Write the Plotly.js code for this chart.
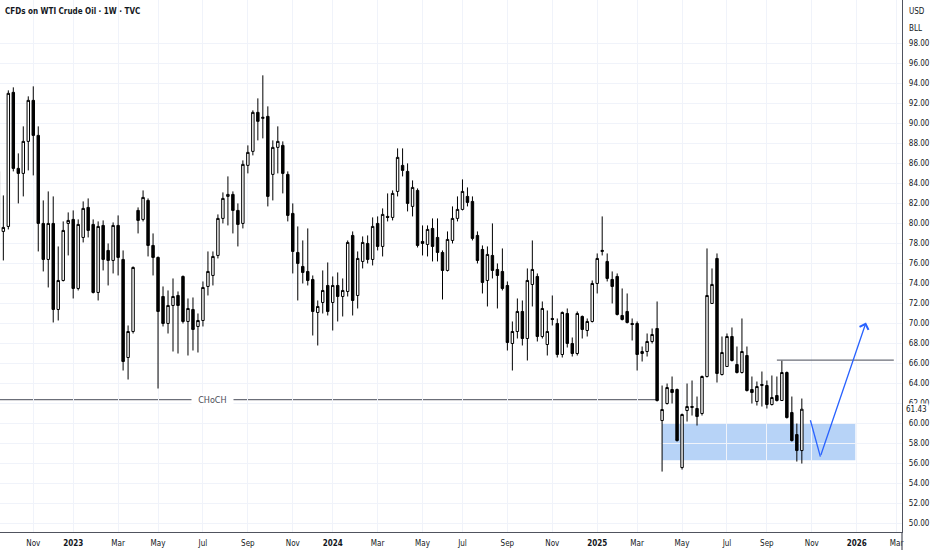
<!DOCTYPE html>
<html>
<head>
<meta charset="utf-8">
<script src="https://cdn.plot.ly/plotly-3.0.1.min.js"></script>
<style>html,body{margin:0;padding:0;background:#fff;}#chart{width:932px;height:550px;}</style>
</head>
<body>
<div id="chart"></div>
<script>
// Weekly bars (Monday of each week)
const weeks = [
"2022-09-19","2022-09-26","2022-10-03","2022-10-10","2022-10-17","2022-10-24","2022-10-31","2022-11-07","2022-11-14","2022-11-21","2022-11-28","2022-12-05","2022-12-12","2022-12-19","2022-12-26",
"2023-01-02","2023-01-09","2023-01-16","2023-01-23","2023-01-30","2023-02-06","2023-02-13","2023-02-20","2023-02-27","2023-03-06","2023-03-13","2023-03-20","2023-03-27","2023-04-03","2023-04-10","2023-04-17","2023-04-24","2023-05-01","2023-05-08","2023-05-15","2023-05-22","2023-05-29","2023-06-05","2023-06-12","2023-06-19","2023-06-26","2023-07-03","2023-07-10","2023-07-17","2023-07-24","2023-07-31","2023-08-07","2023-08-14","2023-08-21","2023-08-28","2023-09-04","2023-09-11","2023-09-18","2023-09-25","2023-10-02","2023-10-09","2023-10-16","2023-10-23","2023-10-30","2023-11-06","2023-11-13","2023-11-20","2023-11-27","2023-12-04","2023-12-11","2023-12-18","2023-12-25",
"2024-01-01","2024-01-08","2024-01-15","2024-01-22","2024-01-29","2024-02-05","2024-02-12","2024-02-19","2024-02-26","2024-03-04","2024-03-11","2024-03-18","2024-03-25","2024-04-01","2024-04-08","2024-04-15","2024-04-22","2024-04-29","2024-05-06","2024-05-13","2024-05-20","2024-05-27","2024-06-03","2024-06-10","2024-06-17","2024-06-24","2024-07-01","2024-07-08","2024-07-15","2024-07-22","2024-07-29","2024-08-05","2024-08-12","2024-08-19","2024-08-26","2024-09-02","2024-09-09","2024-09-16","2024-09-23","2024-09-30","2024-10-07","2024-10-14","2024-10-21","2024-10-28","2024-11-04","2024-11-11","2024-11-18","2024-11-25","2024-12-02","2024-12-09","2024-12-16","2024-12-23","2024-12-30",
"2025-01-06","2025-01-13","2025-01-20","2025-01-27","2025-02-03","2025-02-10","2025-02-17","2025-02-24","2025-03-03","2025-03-10","2025-03-17","2025-03-24","2025-03-31","2025-04-07","2025-04-14","2025-04-21","2025-04-28","2025-05-05","2025-05-12","2025-05-19","2025-05-26","2025-06-02","2025-06-09","2025-06-16","2025-06-23","2025-06-30","2025-07-07","2025-07-14","2025-07-21","2025-07-28","2025-08-04","2025-08-11","2025-08-18","2025-08-25","2025-09-01","2025-09-08","2025-09-15","2025-09-22","2025-09-29","2025-10-06","2025-10-13","2025-10-20"
];
const opens = [
85.2,79.2,79.7,93.1,85.5,85.0,88.2,92.3,88.8,80.0,76.4,80.0,71.4,74.3,80.0,
80.4,73.5,78.6,81.6,79.9,73.1,79.8,77.3,76.3,79.8,76.4,66.6,69.2,81.3,80.4,82.3,77.8,76.6,72.7,70.0,71.8,72.8,74.7,70.2,71.4,69.7,70.3,73.7,74.8,76.8,80.5,82.7,82.9,81.3,80.0,85.8,87.2,91.1,90.5,90.7,84.9,87.6,87.8,84.9,81.0,77.1,75.7,75.2,74.4,71.1,72.1,73.8,
72.1,73.8,72.7,73.2,78.8,72.8,76.2,78.0,76.4,80.0,77.7,80.7,80.6,83.2,85.8,85.2,81.7,83.3,78.2,77.9,79.5,78.6,77.1,75.3,78.3,80.5,81.4,82.7,82.2,78.8,77.4,74.3,76.8,75.4,75.2,73.8,68.0,69.2,71.2,68.5,73.9,74.7,68.7,67.9,70.5,70.0,66.9,71.0,68.0,67.0,70.7,69.3,70.2,
74.0,77.2,76.2,74.4,74.7,70.8,71.2,70.0,70.0,67.0,67.2,68.2,69.5,60.3,62.0,63.4,63.4,55.6,61.3,61.6,61.5,61.0,64.7,72.0,76.5,64.9,65.7,68.7,65.9,65.1,66.8,63.4,62.2,63.8,63.8,61.9,62.8,62.3,65.1,61.1,58.9,57.3
];
const highs = [
86.0,82.8,93.3,93.6,87.0,89.7,92.7,93.7,89.7,82.3,83.2,82.7,77.7,80.2,81.1,
81.3,80.4,82.2,82.5,80.4,80.2,80.3,78.0,80.1,80.8,77.3,69.8,75.7,81.6,83.3,82.5,79.0,76.7,73.7,73.3,74.5,73.2,74.8,72.5,72.6,71.0,74.2,77.2,77.2,80.9,83.1,84.7,83.2,82.0,86.3,87.8,91.3,92.5,94.8,91.7,88.3,89.7,88.2,85.2,82.0,79.7,78.3,79.5,74.8,72.3,75.3,76.1,
74.7,75.1,74.5,78.3,79.2,77.2,78.7,78.8,80.6,80.7,81.5,83.0,83.3,87.5,87.5,86.0,84.3,83.5,79.8,79.8,80.5,80.5,77.3,79.2,81.7,82.7,84.4,83.6,82.7,79.2,77.8,77.7,80.0,76.0,77.5,74.2,70.2,72.5,72.3,75.5,78.3,75.0,72.2,71.3,72.8,70.5,71.2,71.5,68.6,71.2,70.8,70.5,74.3,
77.0,80.7,77.0,75.2,75.0,73.5,73.0,70.5,70.2,67.7,69.0,69.5,72.2,63.8,64.0,64.7,63.5,61.0,64.0,64.3,62.7,64.8,77.5,75.5,77.0,68.7,69.0,69.6,67.7,70.5,67.7,64.7,64.2,65.2,64.3,64.8,64.7,66.3,65.2,62.7,60.0,62.5
];
const lows = [
78.5,76.3,79.4,85.2,82.0,82.7,85.3,84.8,77.2,75.2,73.6,70.1,70.3,74.2,76.8,
72.5,73.3,78.1,78.6,73.0,72.3,75.3,73.8,75.0,74.8,65.3,64.4,69.0,79.0,80.2,76.7,74.8,63.5,69.7,69.0,67.2,67.0,70.0,66.8,67.3,67.1,69.7,72.8,73.8,76.5,80.0,79.8,79.0,77.7,79.5,85.0,86.8,88.3,88.5,81.7,82.3,85.0,83.0,80.2,75.0,72.3,74.0,73.8,68.8,67.8,71.0,70.8,
69.3,70.2,70.7,72.7,70.8,71.5,75.5,76.0,75.8,77.3,76.7,80.2,80.3,82.7,84.7,81.2,80.7,77.6,76.8,76.7,76.2,76.2,72.4,75.2,78.0,80.2,81.3,81.7,78.3,76.0,73.0,71.7,74.5,71.5,73.3,67.3,65.3,68.5,67.8,66.3,71.7,68.2,68.5,66.8,69.8,66.6,66.6,67.6,66.7,66.8,68.5,68.7,70.1,
73.0,76.8,74.2,72.0,70.8,70.3,70.0,68.3,65.3,66.2,66.7,68.0,62.2,55.2,61.9,62.0,58.2,55.4,60.2,60.8,59.8,60.8,64.6,72.0,64.1,64.8,65.7,66.2,65.0,65.0,63.2,62.0,61.8,61.7,61.5,61.8,62.2,62.3,60.5,58.2,56.2,56.0
];
const closes = [
79.5,79.6,93.0,85.5,85.0,88.2,92.3,88.8,80.0,76.4,80.0,71.4,74.3,79.3,80.3,
73.5,79.9,81.5,79.3,73.1,79.7,76.4,76.3,79.8,76.6,66.2,69.2,75.6,80.3,82.6,77.8,76.6,71.2,70.0,71.8,72.7,71.8,70.2,71.5,69.4,70.3,73.6,75.2,76.7,80.5,82.5,82.9,81.3,79.9,85.9,87.1,91.1,90.2,90.6,82.7,87.6,88.2,85.0,80.8,77.2,76.0,75.1,74.3,71.2,71.7,73.3,71.2,
73.8,72.7,73.3,78.1,72.3,76.5,78.1,76.4,79.7,77.7,80.9,80.6,83.0,86.6,85.3,82.0,83.6,77.8,78.0,79.4,77.7,77.1,75.3,78.4,80.5,81.4,83.2,82.1,78.5,76.3,74.1,76.9,75.3,74.8,73.5,68.1,69.2,71.2,68.5,74.3,75.4,68.7,71.5,69.2,70.4,66.9,71.1,68.0,67.0,71.0,69.4,70.2,74.0,
76.5,77.3,74.5,73.7,70.9,70.4,70.1,69.9,66.9,67.2,68.2,68.9,62.3,61.4,63.6,63.1,58.3,60.9,61.7,61.7,60.7,64.7,72.8,73.9,65.0,67.1,68.7,66.3,65.1,67.2,63.3,63.1,63.7,63.9,61.9,62.6,62.3,65.1,60.6,58.3,57.3,61.43
];

// Axis ticks
const yTicks = [50,52,54,56,58,60,62,64,66,68,70,72,74,76,78,80,82,84,86,88,90,92,94,96,98];
const xTickDates = ["2022-11-07","2023-01-02","2023-03-06","2023-05-01","2023-07-03","2023-09-04","2023-11-06","2024-01-01","2024-03-04","2024-05-06","2024-07-01","2024-09-02","2024-11-04","2025-01-06","2025-03-03","2025-05-05","2025-07-07","2025-09-01","2025-11-03","2026-01-05","2026-03-02"];
const xTickLabels = ["Nov","<b>2023</b>","Mar","May","Jul","Sep","Nov","<b>2024</b>","Mar","May","Jul","Sep","Nov","<b>2025</b>","Mar","May","Jul","Sep","Nov","<b>2026</b>","Mar"];

// Drawings (time, price)
const chochLevel = 62.4, chochEnd = "2025-03-31", chochLabelAt = "2023-07-17";
const resistLevel = 66.33, resistStart = "2025-09-15", resistEnd = "2026-02-26";
const zoneTop = 60.0, zoneBottom = 56.33, zoneStart = "2025-04-07", zoneEnd = "2026-01-03";
const pathTimes = ["2025-11-01","2025-11-15","2026-01-18"];
const pathPrices = [60.33, 56.7, 70.1];
const lastPrice = 61.43;

const blue = '#2962ff';
const traces = [
  {
    type:'candlestick', x:weeks, open:opens, high:highs, low:lows, close:closes,
    increasing:{line:{color:'#000000', width:1}, fillcolor:'#ffffff'},
    decreasing:{line:{color:'#000000', width:1}, fillcolor:'#000000'},
    whiskerwidth:0, hoverinfo:'skip', showlegend:false
  },
  {
    type:'scatter', mode:'lines', x:pathTimes.slice(0,2), y:pathPrices.slice(0,2),
    line:{color:blue, width:1.3}, hoverinfo:'skip', showlegend:false
  }
];

const FAM = 'Liberation Sans Narrow, Arial Narrow, DejaVu Sans Condensed, Liberation Sans, sans-serif';
const axFont = {family:FAM, size:8, color:'#131722'};
const layout = {
  width:932, height:550,
  margin:{l:0, r:30, t:0, b:18, pad:0},
  paper_bgcolor:'#ffffff', plot_bgcolor:'#ffffff',
  showlegend:false, hovermode:false, dragmode:false,
  xaxis:{
    type:'date', range:['2022-09-21 08:00','2026-03-09 12:00'],
    rangeslider:{visible:false},
    tickmode:'array', tickvals:xTickDates, ticktext:xTickLabels,
    showgrid:true, gridcolor:'#f0f3fa', gridwidth:1,
    showline:true, linecolor:'#50535e', linewidth:1.2, mirror:false,
    ticks:'', tickfont:axFont, ticklabelstandoff:3, zeroline:false, fixedrange:true
  },
  yaxis:{
    side:'right', range:[49.16, 102.33],
    tickmode:'array', tickvals:yTicks, tickformat:'.2f',
    showgrid:true, gridcolor:'#f0f3fa', gridwidth:1,
    showline:true, linecolor:'#50535e', linewidth:1.2,
    ticks:'', tickfont:axFont, ticklabelstandoff:4, zeroline:false, fixedrange:true
  },
  boxgap:0.3,
  shapes:[
    {type:'rect', xref:'x', yref:'y', x0:zoneStart, x1:zoneEnd, y0:zoneBottom, y1:zoneTop,
     fillcolor:'#b7d3f7', line:{width:0}, layer:'below'},
    {type:'line', xref:'x', yref:'y', x0:'2022-09-01', x1:chochEnd, y0:chochLevel, y1:chochLevel,
     line:{color:'#6b6e78', width:1.2}, layer:'below'},
    {type:'line', xref:'x', yref:'y', x0:resistStart, x1:resistEnd, y0:resistLevel, y1:resistLevel,
     line:{color:'#6b6e78', width:1.2}},
    {type:'line', xref:'paper', yref:'paper', x0:1, x1:1, y0:-0.04, y1:0,
     line:{color:'#50535e', width:1.2}}
  ],
  annotations:[
    {xref:'paper', yref:'paper', x:0, y:1, xanchor:'left', yanchor:'top', xshift:3, yshift:-5,
     text:'<b>CFDs on WTI Crude Oil · 1W · TVC</b>', showarrow:false,
     font:{family:FAM, size:8, color:'#131722'}},
    {xref:'paper', yref:'paper', x:1, y:1, xanchor:'left', yanchor:'top', xshift:5, yshift:-5,
     text:'USD', showarrow:false, font:axFont},
    {xref:'paper', yref:'paper', x:1, y:1, xanchor:'left', yanchor:'top', xshift:5, yshift:-22,
     text:'BLL', showarrow:false, font:axFont},
    {xref:'paper', yref:'y', x:1, y:lastPrice, xanchor:'left', yanchor:'middle', xshift:2,
     text:lastPrice.toFixed(2), showarrow:false, bgcolor:'#ffffff', borderpad:1, font:axFont},
    {xref:'x', yref:'y', x:chochLabelAt, y:chochLevel, showarrow:false,
     bgcolor:'#ffffff', borderpad:1, xanchor:'center', yanchor:'middle',
     font:{family:FAM, size:9, color:'#4a4d57'},
     text:'&nbsp;&nbsp;CHoCH&nbsp;&nbsp;'},
    {xref:'x', yref:'y', axref:'x', ayref:'y', x:pathTimes[2], y:pathPrices[2],
     ax:pathTimes[1], ay:pathPrices[1], text:'', showarrow:true,
     arrowcolor:blue, arrowwidth:1.3, arrowhead:4, arrowsize:1.4, standoff:0}
  ]
};

Plotly.newPlot('chart', traces, layout, {staticPlot:true, displayModeBar:false});
</script>
</body>
</html>
